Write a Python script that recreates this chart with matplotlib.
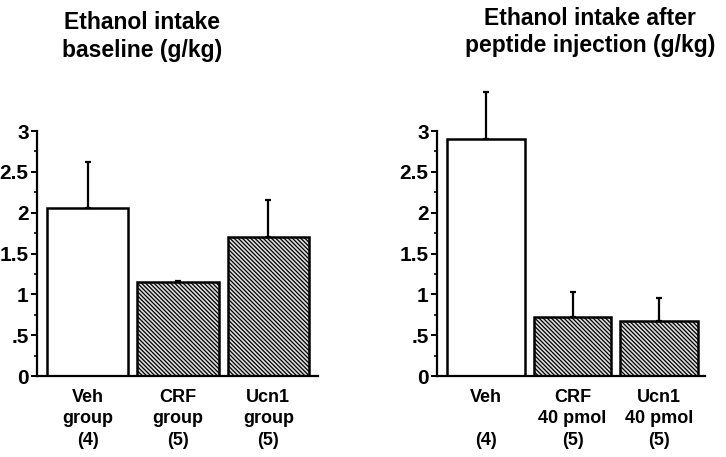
import matplotlib
matplotlib.use("Agg")
import matplotlib.pyplot as plt
import numpy as np

plt.rcParams['font.family'] = ['Liberation Sans', 'DejaVu Sans']
plt.rcParams['font.weight'] = 'bold'
plt.rcParams['hatch.linewidth'] = 0.9
plt.rcParams['hatch.color'] = '#333333'

# Left panel: baseline
left_labels = ["Veh\ngroup\n(4)", "CRF\ngroup\n(5)", "Ucn1\ngroup\n(5)"]
left_means = [2.06, 1.15, 1.70]
left_sem = [0.56, 0.02, 0.45]

# Right panel: after peptide injection
right_labels = ["Veh\n\n(4)", "CRF\n40 pmol\n(5)", "Ucn1\n40 pmol\n(5)"]
right_means = [2.90, 0.72, 0.67]
right_sem = [0.58, 0.31, 0.28]

yticks = [0, 0.5, 1, 1.5, 2, 2.5, 3]
yticklabels = ["0", ".5", "1", "1.5", "2", "2.5", "3"]

titles = ["Ethanol intake\nbaseline (g/kg)", "Ethanol intake after\npeptide injection (g/kg)"]

fig = plt.figure(figsize=(7.26, 4.57), dpi=100)
ax1 = fig.add_axes([0.051, 0.177, 0.387, 0.6436])
ax2 = fig.add_axes([0.602, 0.177, 0.369, 0.6436])

def draw(ax, labels, means, sem, xlim):
    x = np.arange(len(means))
    faces = ['white', '#dcdcdc', '#dcdcdc']
    hatches = [None, '\\' * 8, '\\' * 8]
    for i in range(len(means)):
        ax.bar(x[i], means[i], width=0.9, color=faces[i], edgecolor='black',
               linewidth=1.8, hatch=hatches[i], zorder=2)
    ax.errorbar(x, means, yerr=[np.zeros(len(sem)), sem], fmt='none',
                ecolor='black', elinewidth=1.6, capsize=2.5, capthick=1.6, zorder=3)
    ax.set_xlim(*xlim)
    ax.set_ylim(0, 3.6)
    for s in ['top', 'right']:
        ax.spines[s].set_visible(False)
    ax.spines['left'].set_bounds(0, 3)
    ax.spines['left'].set_linewidth(1.6)
    ax.spines['bottom'].set_linewidth(1.6)
    ax.set_yticks(yticks)
    ax.set_yticklabels(yticklabels, fontsize=15, fontweight='bold')
    ax.set_yticks(np.arange(0, 3.01, 0.25), minor=True)
    ax.tick_params(axis='y', which='major', length=4, width=1.4, pad=2)
    ax.tick_params(axis='y', which='minor', length=2.5, width=1.2)
    ax.set_xticks(x)
    ax.set_xticklabels(labels, fontsize=13, fontweight='bold', linespacing=1.35)
    ax.tick_params(axis='x', length=0, pad=9)

draw(ax1, left_labels, left_means, left_sem, (-0.56, 2.55))
draw(ax2, right_labels, right_means, right_sem, (-0.565, 2.53))

fig.text(0.196, 0.975, titles[0], ha='center', va='top', fontsize=16.5,
         fontweight='bold', linespacing=1.25)
fig.text(0.813, 0.985, titles[1], ha='center', va='top', fontsize=16.5,
         fontweight='bold', linespacing=1.25)

fig.savefig("out.png", dpi=100)
